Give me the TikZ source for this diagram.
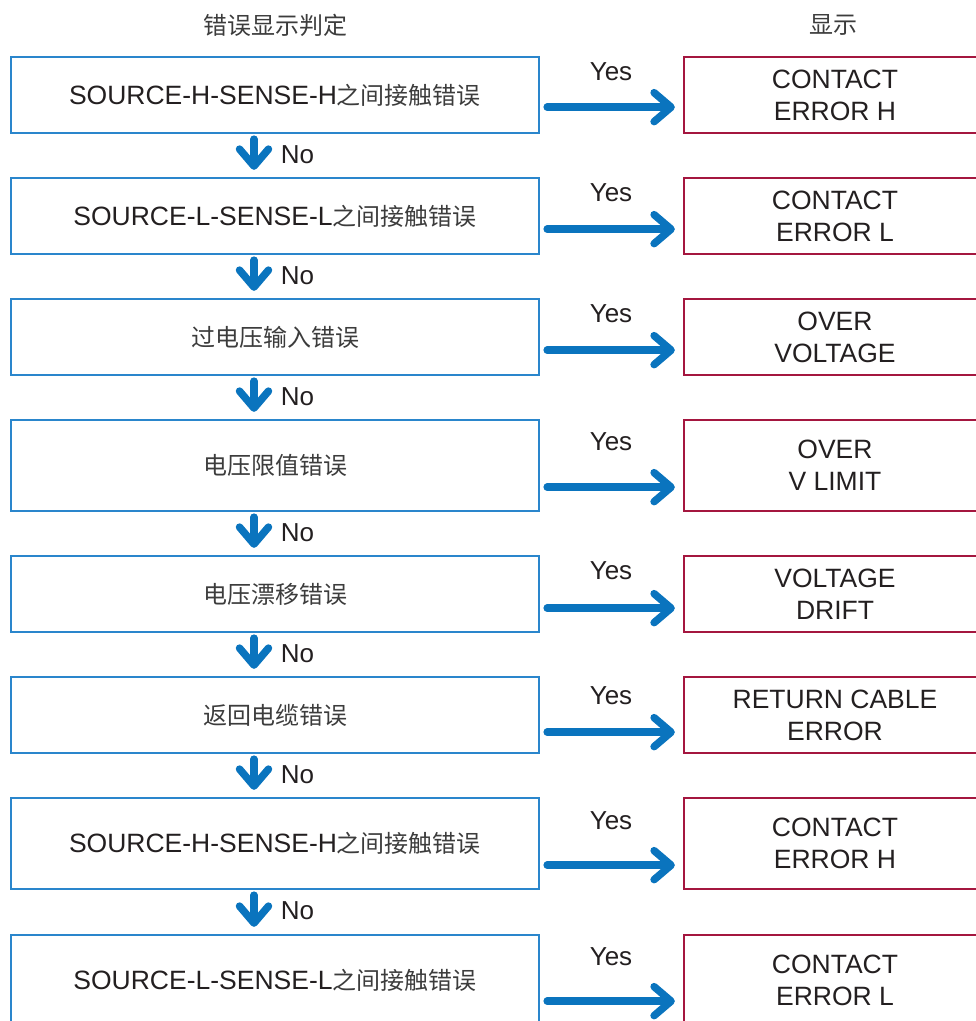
\documentclass[tikz,border=0pt]{standalone}
\usepackage{fontspec}
\setmainfont{Liberation Sans}
\newfontfamily\cjk{Noto Sans CJK SC}
\usetikzlibrary{arrows.meta}

\definecolor{checkblue}{HTML}{2A86CC}
\definecolor{flowblue}{HTML}{0A74BE}
\definecolor{errred}{HTML}{A4163F}
\definecolor{inkgray}{HTML}{231F20}
\definecolor{cjkgray}{HTML}{3C3C3C}

\newcommand{\zh}[1]{{\cjk\fontsize{24}{30}\selectfont\color{cjkgray}#1}}

\tikzset{
  checkbox/.style={draw=checkblue, line width=2.3pt, minimum width=528pt,
    minimum height=76pt, inner sep=0pt, text=inkgray,
    font=\fontsize{26.5}{32}\selectfont},
  showbox/.style={draw=errred, line width=2.3pt, minimum width=302pt,
    minimum height=76pt, inner sep=0pt, align=center, text=inkgray,
    font=\fontsize{26.5}{32}\selectfont},
  tallbox/.style={minimum height=91pt},
  flowarrow/.style={draw=flowblue, line width=7.5pt, line cap=round,
    -{Straight Barb[length=17pt, width=29pt, round]}},
  flowtext/.style={inner sep=0pt, text=inkgray, font=\fontsize{26}{30}\selectfont}
}

\begin{document}
\begin{tikzpicture}[x=1pt, y=-1pt]
\path[use as bounding box, clip] (0,0) rectangle (976,1021);

% -----------------------------
% Column headings
% -----------------------------
\node (headl) at (275,25) {\zh{错误显示判定}};
\node (headr) at (833,25) {\zh{显示}};

% -----------------------------
% Error checks (left column)
% -----------------------------
\node[checkbox] (c1) at (275,95)    {SOURCE-H-SENSE-H\zh{之间接触错误}};
\node[checkbox] (c2) at (275,216)   {SOURCE-L-SENSE-L\zh{之间接触错误}};
\node[checkbox] (c3) at (275,337)   {\zh{过电压输入错误}};
\node[checkbox, tallbox] (c4) at (275,465.5) {\zh{电压限值错误}};
\node[checkbox] (c5) at (275,594)   {\zh{电压漂移错误}};
\node[checkbox] (c6) at (275,715)   {\zh{返回电缆错误}};
\node[checkbox, tallbox] (c7) at (275,843.5) {SOURCE-H-SENSE-H\zh{之间接触错误}};
\node[checkbox, tallbox] (c8) at (275,980.5) {SOURCE-L-SENSE-L\zh{之间接触错误}};

% -----------------------------
% Displays (right column)
% -----------------------------
\node[showbox] (d1) at (835,95)    {CONTACT\\ERROR H};
\node[showbox] (d2) at (835,216)   {CONTACT\\ERROR L};
\node[showbox] (d3) at (835,337)   {OVER\\VOLTAGE};
\node[showbox, tallbox] (d4) at (835,465.5) {OVER\\V LIMIT};
\node[showbox] (d5) at (835,594)   {VOLTAGE\\DRIFT};
\node[showbox] (d6) at (835,715)   {RETURN CABLE\\ERROR};
\node[showbox, tallbox] (d7) at (835,843.5) {CONTACT\\ERROR H};
\node[showbox, tallbox] (d8) at (835,980.5) {CONTACT\\ERROR L};

% -----------------------------
% Yes branches
% -----------------------------
\foreach \i/\up in {1/27,2/26,3/26,4/25,5/25,6/22,7/25,8/26}
  \draw[flowarrow] ([xshift=7pt, yshift=\up pt]c\i.south east)
    -- ([xshift=-8pt, yshift=\up pt]d\i.south west);
\foreach \i/\y in {1/72,2/193,3/314,4/442,5/571,6/696,7/821,8/957}
  \node[flowtext] (yes\i) at (611,\y) {Yes};

% -----------------------------
% No branches
% -----------------------------
\foreach \i/\j in {1/2,2/3,3/4,4/5,5/6,6/7,7/8}
  \draw[flowarrow] ([xshift=-21pt, yshift=-5pt]c\i.south)
    -- ([xshift=-21pt, yshift=7pt]c\j.north)
    node[flowtext, midway, anchor=west, xshift=23pt] (no\i) {No};

\end{tikzpicture}
\end{document}
